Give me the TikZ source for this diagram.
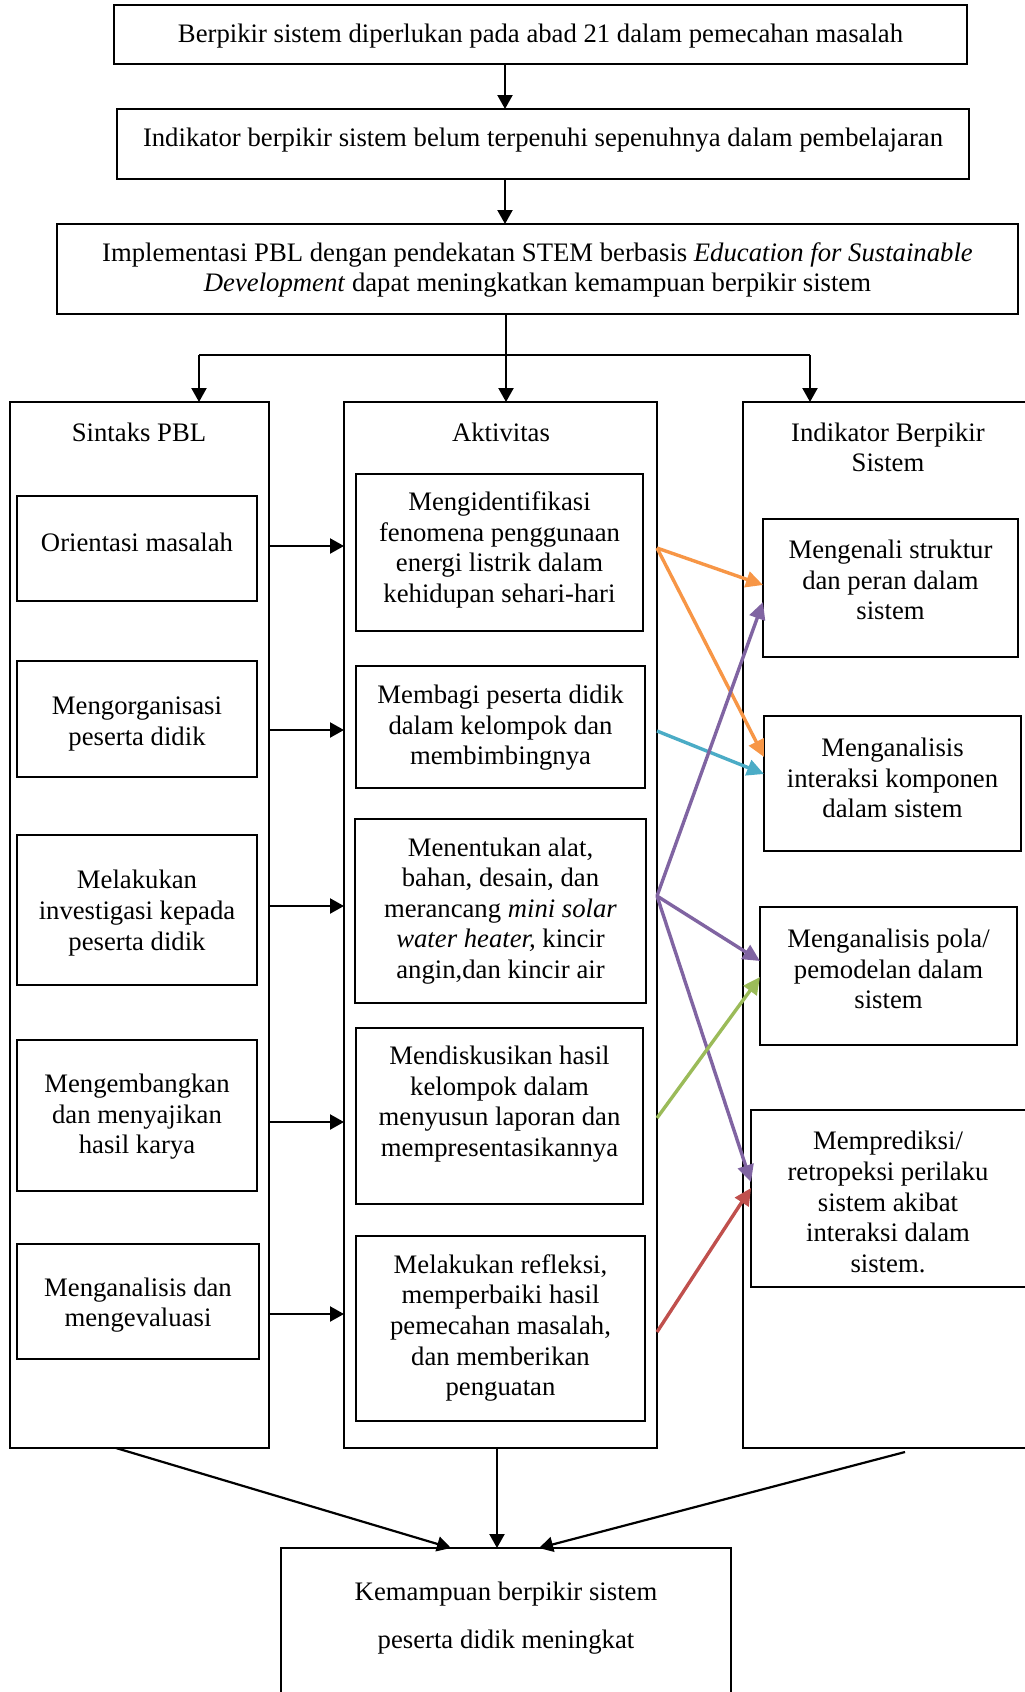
\documentclass[tikz,border=0pt]{standalone}
\usepackage{fontspec}
\setmainfont{Liberation Serif}
\usetikzlibrary{arrows.meta}
\definecolor{corange}{HTML}{F79646}
\definecolor{cteal}{HTML}{4BACC6}
\definecolor{cpurple}{HTML}{8064A2}
\definecolor{cgreen}{HTML}{9BBB59}
\definecolor{cred}{HTML}{C0504D}
\begin{document}
\begin{tikzpicture}[x=1pt,y=-1pt,
  box/.style={draw, line width=2pt, rectangle, inner sep=0pt, outer sep=0pt},
  txt/.style={font=\fontsize{26.7}{30.6}\selectfont, align=center, inner sep=0pt, yshift=-3pt},
  arr/.style={line width=2.2pt, -{Triangle[length=14pt,width=15pt]}},
  carr/.style={line width=3.4pt, -{Triangle[length=17pt,width=16pt]}}]
\useasboundingbox[fill=white] (0,0) rectangle (1025,1692);

% top boxes
\node[box, minimum width=853pt, minimum height=59pt] (b1) at (540.5,34.5) {};
\node[txt] (t1) at (540.5,33.5) {Berpikir sistem diperlukan pada abad 21 dalam pemecahan masalah};
\node[box, minimum width=852pt, minimum height=70pt] (b2) at (543,144) {};
\node[txt] (t2) at (543,137) {Indikator berpikir sistem belum terpenuhi sepenuhnya dalam pembelajaran};
\node[box, minimum width=961pt, minimum height=90pt] (b3) at (537.5,269) {};
\node[txt] (t3) at (537.5,267) {Implementasi PBL dengan pendekatan STEM berbasis \textit{Education for Sustainable}\\\textit{Development} dapat meningkatkan kemampuan berpikir sistem};

\draw[arr] (b1.south -| 505,0) -- (b2.north -| 505,0);
\draw[arr] (b2.south -| 505,0) -- (b3.north -| 505,0);

% columns
\node[box, minimum width=259pt, minimum height=1046pt] (L) at (139.5,925) {};
\node[box, minimum width=313pt, minimum height=1046pt] (M) at (500.5,925) {};
\node[box, minimum width=317pt, minimum height=1046pt] (R) at (901.5,925) {};
\node[txt] (tL) at (139,429) {Sintaks PBL};
\node[txt] (tM) at (501,429) {Aktivitas};
\node[txt] (tR) at (888,444.5) {Indikator Berpikir\\Sistem};

% branch
\coordinate (br) at (506,355);
\draw[line width=2.2pt] (b3.south -| br) -- (br);
\draw[line width=2.2pt] (199,355) -- (810,355);
\draw[arr] (199,355) -- (L.north -| 199,0);
\draw[arr] (br) -- (M.north -| br);
\draw[arr] (810,355) -- (R.north -| 810,0);

% left boxes
\node[box, minimum width=240pt, minimum height=105pt] (L1) at (137,548.5) {};
\node[txt] at (137,539) {Orientasi masalah};
\node[box, minimum width=240pt, minimum height=116pt] (L2) at (137,719) {};
\node[txt] at (137,721) {Mengorganisasi\\peserta didik};
\node[box, minimum width=240pt, minimum height=150pt] (L3) at (137,910) {};
\node[txt] at (137,910) {Melakukan\\investigasi kepada\\peserta didik};
\node[box, minimum width=240pt, minimum height=151pt] (L4) at (137,1115.5) {};
\node[txt] at (137,1114) {Mengembangkan\\dan menyajikan\\hasil karya};
\node[box, minimum width=242pt, minimum height=115pt] (L5) at (138,1301.5) {};
\node[txt] at (138,1302) {Menganalisis dan\\mengevaluasi};

% middle boxes
\node[box, minimum width=287pt, minimum height=157pt] (M1) at (499.5,552.5) {};
\node[txt] at (499.5,547) {Mengidentifikasi\\fenomena penggunaan\\energi listrik dalam\\kehidupan sehari-hari};
\node[box, minimum width=289pt, minimum height=122pt] (M2) at (500.5,727) {};
\node[txt] at (500.5,725) {Membagi peserta didik\\dalam kelompok dan\\membimbingnya};
\node[box, minimum width=291pt, minimum height=184pt] (M3) at (500.5,911) {};
\node[txt] at (500.5,908) {Menentukan alat,\\bahan, desain, dan\\merancang \textit{mini solar}\\\textit{water heater,} kincir\\angin,dan kincir air};
\node[box, minimum width=287pt, minimum height=176pt] (M4) at (499.5,1116) {};
\node[txt] at (499.5,1101) {Mendiskusikan hasil\\kelompok dalam\\menyusun laporan dan\\mempresentasikannya};
\node[box, minimum width=289pt, minimum height=185pt] (M5) at (500.5,1328.5) {};
\node[txt] at (500.5,1325) {Melakukan refleksi,\\memperbaiki hasil\\pemecahan masalah,\\dan memberikan\\penguatan};

% right boxes
\node[box, minimum width=255pt, minimum height=138pt] (R1) at (890.5,588) {};
\node[txt] at (890.5,577) {Mengenali struktur\\dan peran dalam\\sistem};
\node[box, minimum width=257pt, minimum height=135pt] (R2) at (892.5,783.5) {};
\node[txt] at (892.5,775) {Menganalisis\\interaksi komponen\\dalam sistem};
\node[box, minimum width=257pt, minimum height=138pt] (R3) at (888.5,976) {};
\node[txt] at (888.5,966) {Menganalisis pola/\\pemodelan dalam\\sistem};
\node[box, minimum width=309pt, minimum height=177pt] (R4) at (905.5,1198.5) {};
\node[txt] at (888,1199) {Memprediksi/\\retropeksi perilaku\\sistem akibat\\interaksi dalam\\sistem.};

% left -> middle arrows
\draw[arr] (L.east |- 0,546) -- (M.west |- 0,546);
\draw[arr] (L.east |- 0,730) -- (M.west |- 0,730);
\draw[arr] (L.east |- 0,906) -- (M.west |- 0,906);
\draw[arr] (L.east |- 0,1122) -- (M.west |- 0,1122);
\draw[arr] (L.east |- 0,1314) -- (M.west |- 0,1314);

% coloured arrows
\draw[carr, corange] (M.east |- 0,548) -- (R1.west |- 0,585);
\draw[carr, corange] (M.east |- 0,548) -- (R2.west |- 0,757);
\draw[carr, cteal] (M.east |- 0,731) -- (R2.west |- 0,774);
\draw[carr, cpurple] (M.east |- 0,896) -- (R1.west |- 0,602);
\draw[carr, cpurple] (M.east |- 0,896) -- (R3.west |- 0,961);
\draw[carr, cpurple] (M.east |- 0,896) -- (R4.west |- 0,1182);
\draw[carr, cgreen] (M.east |- 0,1118) -- (R3.west |- 0,977);
\draw[carr, cred] (M.east |- 0,1332) -- (R4.west |- 0,1188);

% bottom box
\node[box, minimum width=450pt, minimum height=212pt] (B) at (506,1654) {};
\node[txt] at (506,1591) {Kemampuan berpikir sistem};
\node[txt] at (506,1639) {peserta didik meningkat};

\draw[arr] (L.south -| 116,0) -- (B.north -| 451,0);
\draw[arr] (M.south -| 497,0) -- (B.north -| 497,0);
\coordinate (rs) at (905,1452);
\draw[arr] (rs) -- (B.north -| 539,0);
\end{tikzpicture}
\end{document}
